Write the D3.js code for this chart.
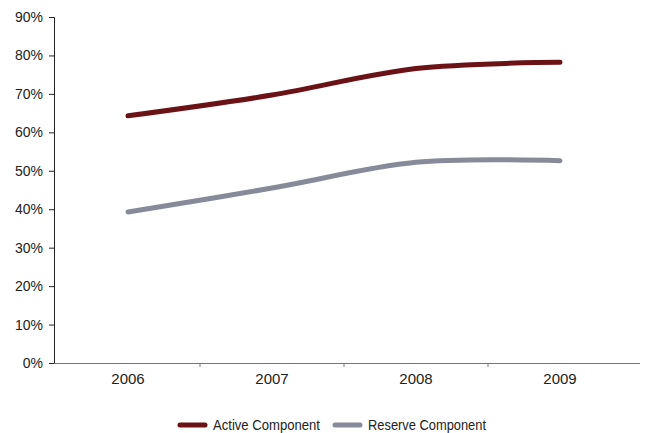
<!DOCTYPE html>
<html lang="en">
<head>
<meta charset="utf-8">
<style>
  body { margin: 0; background: #fff; }
  svg { display: block; }
  .axis text { font-family: "Liberation Sans", Arial, sans-serif; font-size: 14px; fill: #222; }
  .xaxis text { font-size: 15px; }
  .legend text { font-family: "Liberation Sans Narrow", "Liberation Sans", Arial, sans-serif; font-size: 14px; fill: #222; }
</style>
<script src="https://cdn.jsdelivr.net/npm/d3@7"></script>
</head>
<body>
<script>
var years = ["2006", "2007", "2008", "2009"];
var active = [64.3, 69.7, 76.6, 78.2];
var reserve = [39.3, 45.5, 52.2, 52.6];
var yTicks = [0, 10, 20, 30, 40, 50, 60, 70, 80, 90];
var seriesNames = ["Active Component", "Reserve Component"];
var colors = ["#6b1217", "#878a98"];

var width = 652, height = 433;
var m = { left: 54, right: 640, top: 17, bottom: 363 };

var svg = d3.select("body").append("svg")
    .attr("width", width)
    .attr("height", height);

var x = d3.scaleBand().domain(years).range([56, 632]);
var y = d3.scaleLinear().domain([0, 90]).range([m.bottom, m.top]);

// y axis
var yAxis = svg.append("g")
    .attr("class", "axis")
    .attr("transform", "translate(" + m.left + ",0)")
    .call(d3.axisLeft(y).tickValues(yTicks).tickSize(5).tickPadding(6)
        .tickFormat(function(d) { return d + "%"; }));
yAxis.select(".domain").attr("stroke", "#222").attr("stroke-width", 1);
yAxis.selectAll(".tick line").attr("stroke", "#222");

// x axis
var xAxis = svg.append("g")
    .attr("class", "axis xaxis")
    .attr("transform", "translate(0," + m.bottom + ")")
    .call(d3.axisBottom(x).tickSize(0).tickPadding(10));
xAxis.select(".domain").attr("d", "M" + m.left + ",0.5H" + m.right).attr("stroke", "#777");

// category boundary ticks
svg.append("g").selectAll("line")
    .data(years.slice(1))
    .enter().append("line")
    .attr("x1", function(d) { return x(d); })
    .attr("x2", function(d) { return x(d); })
    .attr("y1", m.bottom)
    .attr("y2", m.bottom + 4)
    .attr("stroke", "#777");

var line = d3.line()
    .x(function(d, i) { return x(years[i]) + x.bandwidth() / 2; })
    .y(function(d) { return y(d); })
    .curve(d3.curveCardinal.tension(0));

[active, reserve].forEach(function(s, k) {
    svg.append("path")
        .datum(s)
        .attr("fill", "none")
        .attr("stroke", colors[k])
        .attr("stroke-width", 5)
        .attr("stroke-linecap", "round")
        .attr("d", line);
});

// legend
var legendX = [180, 335];
var legendW = [107, 118];
var lg = svg.append("g").attr("class", "legend");
seriesNames.forEach(function(name, k) {
    lg.append("line")
        .attr("x1", legendX[k]).attr("x2", legendX[k] + 25)
        .attr("y1", 425).attr("y2", 425)
        .attr("stroke", colors[k])
        .attr("stroke-width", 5)
        .attr("stroke-linecap", "round");
    lg.append("text")
        .attr("x", legendX[k] + 33)
        .attr("y", 430)
        .attr("textLength", legendW[k])
        .attr("lengthAdjust", "spacingAndGlyphs")
        .text(name);
});
</script>
</body>
</html>
